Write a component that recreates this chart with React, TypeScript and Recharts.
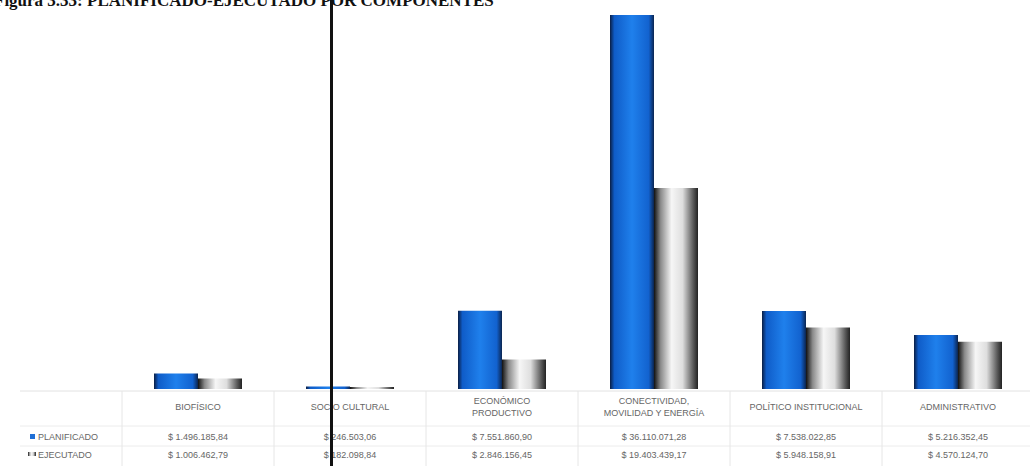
import { BarChart, Bar, XAxis, YAxis } from "recharts";

const categories = [
  "BIOFÍSICO",
  "SOCIO CULTURAL",
  "ECONÓMICO|PRODUCTIVO",
  "CONECTIVIDAD,|MOVILIDAD Y ENERGÍA",
  "POLÍTICO INSTITUCIONAL",
  "ADMINISTRATIVO",
];

const planificado = [1496185.84, 246503.06, 7551860.9, 36110071.28, 7538022.85, 5216352.45];
const ejecutado = [1006462.79, 182098.84, 2846156.45, 19403439.17, 5948158.91, 4570124.7];

const seriesNames = ["PLANIFICADO", "EJECUTADO"];

const data = categories.map((name, i) => ({
  name,
  planificado: planificado[i],
  ejecutado: ejecutado[i],
}));

const money = (v: number) => {
  const [int, dec] = v.toFixed(2).split(".");
  return "$ " + int.replace(/\B(?=(\d{3})+(?!\d))/g, ".") + "," + dec;
};

const BAND = 152;
const textStyle = { fontFamily: "'Liberation Sans', Arial, sans-serif", fontSize: 9, fill: "#666" };

// one column of the data table under each category
const TableTick = (props: any) => {
  const { x, y, payload } = props;
  const i = payload.index;
  const lines = String(payload.value).split("|");
  const base = y - 8;
  return (
    <g>
      <line x1={x + BAND / 2} x2={x + BAND / 2} y1={base + 2} y2={466} stroke="#e6e6e6" />
      {lines.map((l, k) => (
        <text
          key={k}
          x={x}
          y={lines.length === 1 ? base + 21 : base + 15 + k * 12}
          textAnchor="middle"
          style={textStyle}
        >
          {l}
        </text>
      ))}
      <text x={x} y={base + 51} textAnchor="middle" style={textStyle}>
        {money(planificado[i])}
      </text>
      <text x={x} y={base + 69} textAnchor="middle" style={textStyle}>
        {money(ejecutado[i])}
      </text>
    </g>
  );
};

export default function App() {
  return (
    <div
      style={{
        position: "absolute",
        left: 0,
        top: 0,
        width: 1030,
        height: 466,
        overflow: "hidden",
        background: "#fff",
      }}
    >
      <BarChart
        width={1034}
        height={466}
        data={data}
        margin={{ top: 15, right: 0, bottom: 0, left: 122 }}
        barGap={0}
        barSize={44}
      >
        <defs>
          <linearGradient id="gBlue" x1="0" y1="0" x2="1" y2="0">
            <stop offset="0%" stopColor="#0a1e44" />
            <stop offset="10%" stopColor="#0f5cc8" />
            <stop offset="50%" stopColor="#1f80ec" />
            <stop offset="88%" stopColor="#1262cf" />
            <stop offset="100%" stopColor="#0b2550" />
          </linearGradient>
          <linearGradient id="gGray" x1="0" y1="0" x2="1" y2="0">
            <stop offset="0%" stopColor="#111" />
            <stop offset="15%" stopColor="#8a8a8a" />
            <stop offset="40%" stopColor="#f6f6f6" />
            <stop offset="65%" stopColor="#dedede" />
            <stop offset="90%" stopColor="#555" />
            <stop offset="100%" stopColor="#222" />
          </linearGradient>
        </defs>
        <text
          x={-6}
          y={6}
          style={{ fontFamily: "'Liberation Serif', serif", fontSize: 17, fontWeight: 700, fill: "#111" }}
        >
          Figura 3.33: PLANIFICADO-EJECUTADO POR COMPONENTES
        </text>
        <line x1={20} x2={1034} y1={391} y2={391} stroke="#e2e2e2" />
        <line x1={20} x2={1034} y1={426} y2={426} stroke="#ececec" />
        <line x1={20} x2={1034} y1={446} y2={446} stroke="#ececec" />
        <line x1={122} x2={122} y1={391} y2={466} stroke="#e6e6e6" />
        <rect x={30} y={434} width={5} height={5} fill="#1f6fd6" />
        <text x={38} y={440} style={textStyle}>
          {seriesNames[0]}
        </text>
        <rect x={28} y={452} width={8} height={4} fill="url(#gGray)" />
        <text x={38} y={458} style={textStyle}>
          {seriesNames[1]}
        </text>
        <XAxis
          dataKey="name"
          height={77}
          axisLine={false}
          tickLine={false}
          interval={0}
          tick={<TableTick />}
        />
        <YAxis hide domain={[0, 36110071.28]} />
        <Bar dataKey="planificado" fill="url(#gBlue)" isAnimationActive={false} />
        <Bar dataKey="ejecutado" fill="url(#gGray)" isAnimationActive={false} />
      </BarChart>
      <div
        style={{
          position: "absolute",
          left: 330,
          top: 0,
          width: 3,
          height: 466,
          background: "#111",
        }}
      />
    </div>
  );
}
